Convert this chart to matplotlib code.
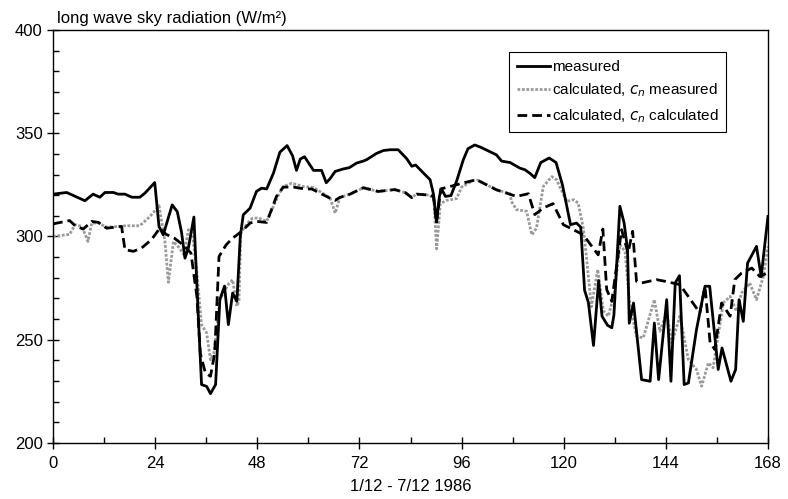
import matplotlib.pyplot as plt
from matplotlib.ticker import MultipleLocator

plt.rcParams['font.family'] = ['Liberation Sans', 'DejaVu Sans']

# measured sky radiation (hour, W/m2)
meas_h = [0, 3.2, 7.5, 9.4, 11.0, 12.2, 14.2, 15.3, 16.9, 18.5, 20.4, 21.6, 23.9, 24.9, 25.9,
          28.0, 29.2, 30.2, 31.0, 31.8, 33.1, 34.1, 34.9, 36.1, 37.0, 38.2, 39.2, 40.3, 41.2,
          42.2, 43.2, 44.0, 44.7, 46.3, 47.8, 49.0, 50.2, 51.8, 53.3, 55.0, 56.3, 57.2, 58.1,
          59.1, 61.2, 63.1, 64.2, 65.1, 66.3, 68.2, 69.6, 71.4, 72.9, 73.7, 76.0, 77.6, 79.2,
          81.1, 83.1, 84.3, 85.2, 87.0, 88.6, 89.4, 90.1, 90.8, 91.3, 92.2, 93.5, 94.8, 96.4,
          97.5, 99.1, 100.5, 102.2, 104.2, 105.4, 107.4, 109.7, 110.9, 112.1, 113.2, 114.6,
          116.6, 118.2, 119.7, 121.6, 123.0, 124.0, 124.9, 125.8, 127.0, 128.2, 129.0, 130.3,
          131.3, 131.8, 133.2, 134.2, 135.0, 135.4, 136.4, 138.3, 140.3, 141.3, 142.3, 144.2,
          145.2, 146.2, 147.2, 148.3, 149.3, 151.2, 153.2, 154.3, 156.3, 157.2, 159.3, 160.4,
          161.2, 162.2, 163.2, 165.3, 166.4, 168.0]
meas_v = [320.5, 321.3, 317.3, 320.5, 319.0, 321.3, 321.3, 320.5, 320.5, 319.0, 319.0, 321.0,
          326.1, 304.8, 300.8, 315.3, 312.0, 302.0, 289.5, 294.4, 309.4, 263.0, 228.3, 227.4,
          223.9, 228.3, 269.4, 276.0, 257.3, 272.6, 268.6, 300.0, 310.5, 313.7, 321.8, 323.4,
          323.0, 330.7, 340.8, 344.0, 339.0, 332.0, 337.5, 338.6, 332.0, 332.0, 326.0, 328.0,
          331.5, 332.7, 333.3, 335.6, 336.5, 337.2, 340.2, 341.6, 342.0, 342.0, 337.7, 334.0,
          334.6, 330.8, 327.5, 320.5, 307.0, 319.4, 323.0, 319.4, 319.8, 326.6, 337.1, 342.5,
          344.3, 343.2, 341.5, 339.5, 336.5, 335.8, 333.1, 332.3, 330.5, 328.5, 335.8, 338.0,
          335.8, 325.0, 305.7, 306.5, 304.5, 274.0, 268.0, 247.2, 278.7, 261.4, 257.0, 255.8,
          262.0, 314.6, 306.5, 293.6, 258.0, 267.8, 230.7, 229.9, 258.1, 230.7, 269.4, 229.9,
          277.5, 281.0, 228.3, 229.1, 254.9, 275.9, 275.9, 235.6, 246.0, 229.9, 235.6, 269.4,
          258.9, 287.1, 295.2, 280.6, 309.7]

# calculated, cn measured
cnm_h = [0, 3.9, 5.2, 6.8, 8.2, 9.1, 10.7, 12.6, 15.7, 17.3, 20.4, 22.8, 24.9, 26.3, 27.1,
         28.3, 29.7, 30.8, 31.8, 32.8, 33.8, 34.9, 36.1, 37.0, 37.8, 39.2, 40.4, 41.4, 42.2,
         43.2, 43.7, 44.1, 45.7, 46.9, 48.4, 50.2, 53.0, 54.1, 56.1, 58.8, 61.2, 65.1, 66.3,
         67.4, 69.8, 72.9, 76.4, 80.3, 82.8, 84.3, 85.4, 88.6, 89.5, 90.15, 91.0, 92.5, 94.8,
         96.0, 98.7, 99.8, 104.2, 107.4, 107.7, 108.9, 111.3, 112.5, 113.6, 115.2, 117.2,
         118.3, 120.7, 122.3, 123.4, 124.6, 125.4, 126.5, 128.0, 129.3, 130.5, 131.7, 132.0,
         133.2, 134.4, 135.5, 137.1, 138.7, 141.3, 142.6, 144.2, 145.4, 147.3, 149.3, 151.2,
         152.4, 154.0, 155.1, 157.5, 159.1, 160.6, 161.8, 163.7, 165.3, 166.9, 168.0]
cnm_v = [300.0, 301.0, 305.7, 304.9, 297.6, 306.5, 306.5, 304.5, 304.9, 305.2, 305.2, 309.7,
         314.9, 297.6, 277.8, 297.6, 294.4, 291.0, 303.3, 301.0, 282.3, 257.3, 253.2, 240.3,
         243.5, 269.4, 274.2, 277.4, 279.0, 266.2, 269.0, 301.6, 306.5, 308.9, 308.9, 307.3,
         320.2, 324.2, 325.8, 324.2, 323.7, 318.7, 311.3, 318.9, 320.5, 323.6, 321.8, 322.7,
         321.2, 318.8, 320.5, 320.0, 317.5, 294.0, 315.9, 317.5, 318.3, 323.9, 327.1, 327.3,
         322.6, 320.7, 317.0, 313.0, 312.2, 300.8, 304.0, 324.2, 329.0, 327.5, 317.0, 317.8,
         316.2, 304.1, 288.8, 266.0, 284.0, 264.0, 261.4, 271.1, 274.0, 296.0, 292.8, 267.8,
         251.7, 250.9, 269.4, 254.1, 263.0, 248.5, 261.4, 240.4, 235.6, 227.5, 238.8, 236.4,
         267.8, 271.0, 263.8, 272.6, 277.5, 269.4, 280.6, 295.2]

# calculated, cn calculated
cnc_h = [0, 3.9, 5.2, 7.1, 9.1, 10.7, 12.6, 16.1, 16.9, 18.9, 20.8, 23.1, 25.1, 26.6, 28.5,
         30.5, 32.4, 33.8, 34.6, 35.8, 37.0, 38.0, 39.0, 40.7, 42.2, 44.3, 46.3, 47.8, 50.2,
         52.5, 54.1, 56.5, 59.2, 60.8, 62.7, 65.1, 66.3, 67.4, 69.8, 72.9, 76.4, 80.3, 82.8,
         84.3, 85.4, 88.6, 89.4, 90.1, 91.1, 93.3, 96.4, 99.5, 104.2, 108.9, 111.7, 113.2,
         115.2, 117.5, 119.9, 121.5, 124.6, 128.1, 129.2, 130.1, 131.3, 133.6, 135.1, 136.2,
         137.1, 138.3, 141.8, 143.8, 147.3, 152.0, 153.2, 154.4, 155.5, 157.1, 159.1, 160.2,
         161.8, 164.2, 166.1, 168.0]
cnc_v = [306.1, 307.7, 305.2, 303.6, 307.3, 306.8, 304.0, 304.9, 293.6, 292.8, 294.4, 298.4,
         304.0, 301.0, 299.2, 296.0, 292.0, 271.0, 243.5, 233.9, 232.3, 243.5, 290.3, 296.0,
         299.2, 302.4, 306.5, 307.3, 306.8, 319.4, 323.9, 323.9, 323.0, 323.0, 321.0, 318.5,
         317.5, 318.9, 320.5, 323.6, 321.8, 322.7, 321.2, 318.8, 320.5, 320.0, 319.4, 306.5,
         323.0, 324.2, 325.9, 327.5, 322.6, 319.4, 320.7, 310.6, 313.8, 315.9, 305.7, 304.1,
         300.8, 291.1, 303.6, 274.3, 268.6, 303.3, 292.0, 302.5, 278.3, 277.5, 279.1, 278.3,
         276.7, 263.0, 275.9, 248.5, 245.3, 267.8, 261.4, 279.1, 282.3, 284.7, 280.6, 282.5]

fig = plt.figure(figsize=(7.88, 4.99), dpi=100)
ax = fig.add_axes([0.0673, 0.1122, 0.9073, 0.8278])

ax.plot(meas_h, meas_v, color='black', lw=2, label='measured', zorder=3)
ax.plot(cnm_h, cnm_v, color='#9a9a9a', lw=2, linestyle=(0, (1, 0.6)),
        label='calculated, $c_n$ measured', zorder=2)
ax.plot(cnc_h, cnc_v, color='black', lw=2, linestyle=(0, (3.5, 1.8)),
        label='calculated, $c_n$ calculated', zorder=2)

ax.set_xlim(0, 168)
ax.set_ylim(200, 400)
ax.xaxis.set_major_locator(MultipleLocator(24))
ax.xaxis.set_minor_locator(MultipleLocator(12))
ax.yaxis.set_major_locator(MultipleLocator(50))
ax.yaxis.set_minor_locator(MultipleLocator(10))
ax.tick_params(which='major', direction='inout', length=8, width=1, labelsize=12)
ax.tick_params(axis='x', which='major', pad=5)
ax.tick_params(which='minor', direction='in', length=4, width=1)
for s in ax.spines.values():
    s.set_linewidth(1)

ax.set_xlabel('1/12 - 7/12 1986', fontsize=12, labelpad=6)
ax.text(0.005, 1.01, 'long wave sky radiation (W/m²)', transform=ax.transAxes,
        fontsize=12, ha='left', va='bottom')

leg = ax.legend(loc='upper right', bbox_to_anchor=(0.952, 0.964), fontsize=11,
                fancybox=False, edgecolor='black', framealpha=1, handlelength=2.2,
                handletextpad=0.1, borderpad=0.5, labelspacing=0.5)
leg.get_frame().set_linewidth(0.8)

fig.savefig('out.png', dpi=100)
